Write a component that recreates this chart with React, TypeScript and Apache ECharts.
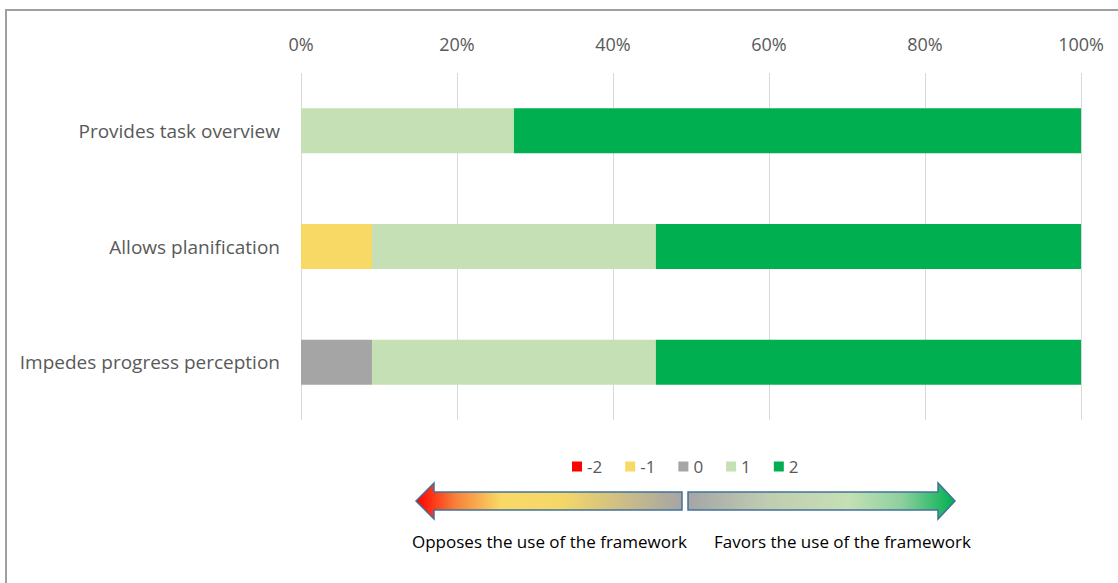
import React, { useEffect, useRef } from "react";
import * as echarts from "echarts";

const categories = ["Provides task overview", "Allows planification", "Impedes progress perception"];
const seriesNames = ["-2", "-1", "0", "1", "2"];
const valuesM2 = [0, 0, 0];
const valuesM1 = [0, 9.1, 0];
const values0 = [0, 0, 9.1];
const values1 = [27.3, 36.4, 36.4];
const values2 = [72.7, 54.5, 54.5];
const colors = ["#FF0000", "#F9D966", "#A5A5A5", "#C5E0B4", "#00B050"];
const xTicks = [0, 20, 40, 60, 80, 100];
const leftText = "Opposes the use of the framework";
const rightText = "Favors the use of the framework";

const FONT = "'Open Sans', 'Noto Sans', sans-serif";

export default function App() {
  const ref = useRef<HTMLDivElement>(null);
  useEffect(() => {
    if (!ref.current) return;
    const chart = echarts.init(ref.current, undefined, { renderer: "svg" });
    const allValues = [valuesM2, valuesM1, values0, values1, values2];
    chart.setOption({
      animation: false,
      backgroundColor: "#ffffff",
      textStyle: { fontFamily: FONT },
      grid: { left: 301, right: 37, top: 73, bottom: 163, containLabel: false },
      legend: {
        data: seriesNames,
        left: 567,
        top: 453,
        icon: "rect",
        itemWidth: 10,
        itemHeight: 10,
        itemGap: 23,
        textStyle: { color: "#595959", fontSize: 17, fontFamily: FONT },
      },
      xAxis: {
        type: "value",
        position: "top",
        min: 0,
        max: xTicks[xTicks.length - 1],
        interval: 20,
        axisLine: { show: false },
        axisTick: { show: false },
        axisLabel: { formatter: "{value}%", color: "#595959", fontSize: 18, margin: 20, fontFamily: FONT },
        splitLine: { show: true, lineStyle: { color: "#D9D9D9", width: 1 } },
      },
      yAxis: {
        type: "category",
        data: categories,
        inverse: true,
        axisLine: { show: false },
        axisTick: { show: false },
        axisLabel: { color: "#595959", fontSize: 19, margin: 21, fontFamily: FONT },
        splitLine: { show: false },
      },
      series: seriesNames.map((name, i) => ({
        name,
        type: "bar",
        stack: "total",
        barWidth: 45,
        data: allValues[i],
        itemStyle: { color: colors[i] },
      })),
      graphic: [
        {
          type: "rect",
          shape: { x: 6, y: 10, width: 1200, height: 700 },
          style: { fill: "none", stroke: "#A0A0A0", lineWidth: 2 },
          silent: true,
        },
        {
          type: "polygon",
          shape: {
            points: [
              [416, 501], [434, 483], [434, 492], [682, 492], [682, 510], [434, 510], [434, 519],
            ],
          },
          style: {
            fill: new echarts.graphic.LinearGradient(0, 0, 1, 0, [
              { offset: 0, color: "#FF0000" },
              { offset: 0.15, color: "#F7823A" },
              { offset: 0.32, color: "#F9D966" },
              { offset: 0.55, color: "#F5D768" },
              { offset: 1, color: "#A5A5A5" },
            ]),
            stroke: "#41719C",
            lineWidth: 1.5,
          },
        },
        {
          type: "polygon",
          shape: {
            points: [
              [688, 492], [938, 492], [938, 483], [955, 501], [938, 519], [938, 510], [688, 510],
            ],
          },
          style: {
            fill: new echarts.graphic.LinearGradient(0, 0, 1, 0, [
              { offset: 0, color: "#A5A5A5" },
              { offset: 0.3, color: "#C0CDB0" },
              { offset: 0.6, color: "#C5E0B4" },
              { offset: 0.8, color: "#8ED09E" },
              { offset: 1, color: "#00B050" },
            ]),
            stroke: "#41719C",
            lineWidth: 1.5,
          },
        },
        {
          type: "text",
          x: 412,
          y: 541,
          style: { text: leftText, fill: "#000000", fontSize: 17, fontFamily: FONT, verticalAlign: "middle", textAlign: "left" },
        },
        {
          type: "text",
          x: 714,
          y: 541,
          style: { text: rightText, fill: "#000000", fontSize: 17, fontFamily: FONT, verticalAlign: "middle", textAlign: "left" },
        },
      ],
    });
    return () => chart.dispose();
  }, []);
  return <div ref={ref} style={{ position: "absolute", left: 0, top: 0, width: 1118, height: 583 }} />;
}
